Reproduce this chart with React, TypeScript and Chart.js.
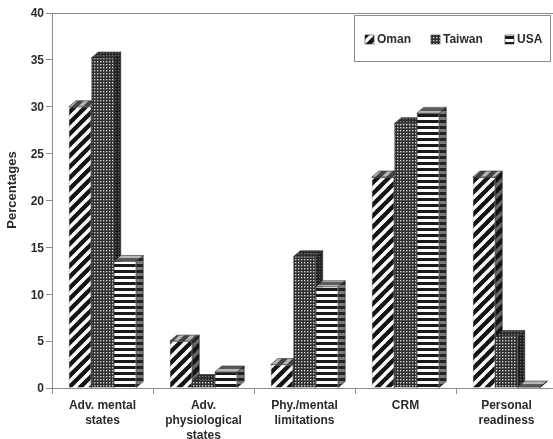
import React, { useEffect, useRef } from "react";
import { Chart, registerables } from "chart.js";

Chart.register(...registerables);

const categories = [
  ["Adv. mental", "states"],
  ["Adv.", "physiological", "states"],
  ["Phy./mental", "limitations"],
  ["CRM"],
  ["Personal", "readiness"],
];
const oman = [30, 5, 2.5, 22.5, 22.5];
const taiwan = [35.2, 0.8, 14, 28.2, 5.5];
const usa = [13.5, 1.7, 10.8, 29.3, 0.1];
const yTicks = [0, 5, 10, 15, 20, 25, 30, 35, 40];
const yTitle = "Percentages";

const FONT = "'Liberation Sans', Arial, sans-serif";
const DEPTH_X = 7;
const DEPTH_Y = 6;
const GREY = "#8c8c8c";
const INK = "#2b2b2b";

type Kind = "diagonal" | "dots" | "lines";

// Builds a repeating hatch for one series, in the given ink and paper tones.
function hatch(kind: Kind, ink: string, paper: string) {
  const tile = document.createElement("canvas");
  const size = kind === "diagonal" ? 11 : kind === "dots" ? 3 : 6;
  tile.width = size;
  tile.height = size;
  const c = tile.getContext("2d")!;
  c.fillStyle = ink;
  c.fillRect(0, 0, size, size);
  c.fillStyle = paper;
  if (kind === "dots") {
    c.fillRect(1, 1, 1.4, 1.4);
  } else if (kind === "lines") {
    c.fillRect(0, 3, size, 3);
  } else {
    c.strokeStyle = paper;
    c.lineWidth = 3.4;
    for (let i = -size; i <= size * 2; i += size) {
      c.beginPath();
      c.moveTo(i - 1, size + 1);
      c.lineTo(i + size + 1, -1);
      c.stroke();
    }
  }
  return c.createPattern(tile, "repeat")!;
}

const faces: Record<Kind, { front: string[]; top: string[]; side: string[] }> = {
  diagonal: { front: ["#141414", "#ffffff"], top: ["#444444", "#b4b4b4"], side: ["#141414", "#666666"] },
  dots: { front: ["#2e2e2e", "#d4d4d4"], top: ["#2a2a2a", "#777777"], side: ["#1e1e1e", "#5e5e5e"] },
  lines: { front: ["#1a1a1a", "#ffffff"], top: ["#5a5a5a", "#b8b8b8"], side: ["#222222", "#7a7a7a"] },
};
const kinds: Kind[] = ["diagonal", "dots", "lines"];

function polygon(ctx: CanvasRenderingContext2D, pts: number[][], fill: CanvasPattern) {
  ctx.beginPath();
  pts.forEach(([x, y], i) => (i ? ctx.lineTo(x, y) : ctx.moveTo(x, y)));
  ctx.closePath();
  ctx.fillStyle = fill;
  ctx.fill();
  ctx.strokeStyle = "#2a2a2a";
  ctx.lineWidth = 0.6;
  ctx.stroke();
}

// Paints the series left to right, each with its receding top and side faces,
// so that every column overlaps the one before it as in a 3-D column chart.
const extrude = {
  id: "extrude",
  beforeDatasetDraw() {
    return false;
  },
  afterDatasetsDraw(chart: any) {
    const ctx = chart.ctx;
    chart.getSortedVisibleDatasetMetas().forEach((meta: any) => {
      const kind = kinds[meta.index];
      const top = hatch(kind, faces[kind].top[0], faces[kind].top[1]);
      const side = hatch(kind, faces[kind].side[0], faces[kind].side[1]);
      meta.controller.draw();
      ctx.save();
      meta.data.forEach((bar: any) => {
        const l = bar.x - bar.width / 2;
        const r = bar.x + bar.width / 2;
        const y = bar.y;
        const b = bar.base;
        polygon(ctx, [[l, y], [l + DEPTH_X, y - DEPTH_Y], [r + DEPTH_X, y - DEPTH_Y], [r, y]], top);
        polygon(ctx, [[r, y], [r + DEPTH_X, y - DEPTH_Y], [r + DEPTH_X, b - DEPTH_Y], [r, b]], side);
      });
      ctx.restore();
    });
  },
};

// Top rule of the plot, the axis title and the framed key in the upper right corner.
const frame = {
  id: "frame",
  afterDraw(chart: any) {
    const { ctx, chartArea } = chart;
    ctx.save();
    ctx.strokeStyle = GREY;
    ctx.lineWidth = 1;
    ctx.beginPath();
    ctx.moveTo(chartArea.left, chartArea.top + 0.5);
    ctx.lineTo(chartArea.right, chartArea.top + 0.5);
    ctx.stroke();

    ctx.save();
    ctx.translate(12, 190);
    ctx.rotate(-Math.PI / 2);
    ctx.font = `bold 13px ${FONT}`;
    ctx.fillStyle = INK;
    ctx.textAlign = "center";
    ctx.textBaseline = "middle";
    ctx.fillText(yTitle, 0, 0);
    ctx.restore();

    ctx.fillStyle = "#ffffff";
    ctx.fillRect(354, 15, 197, 46);
    ctx.strokeRect(354.5, 15.5, 196, 46);

    ctx.font = `bold 12px ${FONT}`;
    ctx.textBaseline = "middle";
    const swatchX = [365, 431, 505];
    chart.data.datasets.forEach((ds: any, i: number) => {
      ctx.fillStyle = ds.backgroundColor;
      ctx.fillRect(swatchX[i], 35, 9, 9);
      ctx.strokeStyle = "#333333";
      ctx.lineWidth = 0.6;
      ctx.strokeRect(swatchX[i], 35, 9, 9);
      ctx.fillStyle = INK;
      ctx.fillText(ds.label, swatchX[i] + 12, 39.5);
    });
    ctx.restore();
  },
};

export default function App() {
  const ref = useRef<HTMLCanvasElement>(null);

  useEffect(() => {
    const series = [
      { label: "Oman", data: oman },
      { label: "Taiwan", data: taiwan },
      { label: "USA", data: usa },
    ];
    const chart = new Chart(ref.current!, {
      type: "bar",
      data: {
        labels: categories as any,
        datasets: series.map((s, i) => ({
          ...s,
          backgroundColor: hatch(kinds[i], faces[kinds[i]].front[0], faces[kinds[i]].front[1]),
          borderColor: "#2a2a2a",
          borderWidth: 0.6,
          barPercentage: 1,
          categoryPercentage: 0.668,
        })),
      },
      options: {
        responsive: false,
        animation: false,
        layout: { padding: { top: 13, right: 0, bottom: 0, left: 0 } },
        plugins: { legend: { display: false }, tooltip: { enabled: false } },
        scales: {
          x: {
            grid: { drawOnChartArea: false, color: GREY, tickLength: 6 },
            border: { color: GREY },
            ticks: {
              color: INK,
              font: { family: FONT, size: 12, weight: "bold", lineHeight: 1.25 },
              padding: 4,
              autoSkip: false,
              maxRotation: 0,
            },
            afterFit(axis: any) {
              axis.height = 51;
            },
          },
          y: {
            min: 0,
            max: 40,
            grid: { drawOnChartArea: false, color: GREY, tickLength: 6 },
            border: { color: GREY },
            afterBuildTicks(axis: any) {
              axis.ticks = yTicks.map((value) => ({ value }));
            },
            ticks: {
              color: INK,
              font: { family: FONT, size: 12, weight: "bold" },
              padding: 2,
              labelOffset: 1,
            },
            afterFit(axis: any) {
              axis.width = 52;
            },
          },
        },
      },
      plugins: [extrude, frame],
    } as any);
    return () => chart.destroy();
  }, []);

  return (
    <div style={{ position: "fixed", left: 0, top: 0, width: 553, height: 439, overflow: "hidden", background: "#fff" }}>
      <canvas ref={ref} width={557} height={439} style={{ display: "block" }} />
    </div>
  );
}
